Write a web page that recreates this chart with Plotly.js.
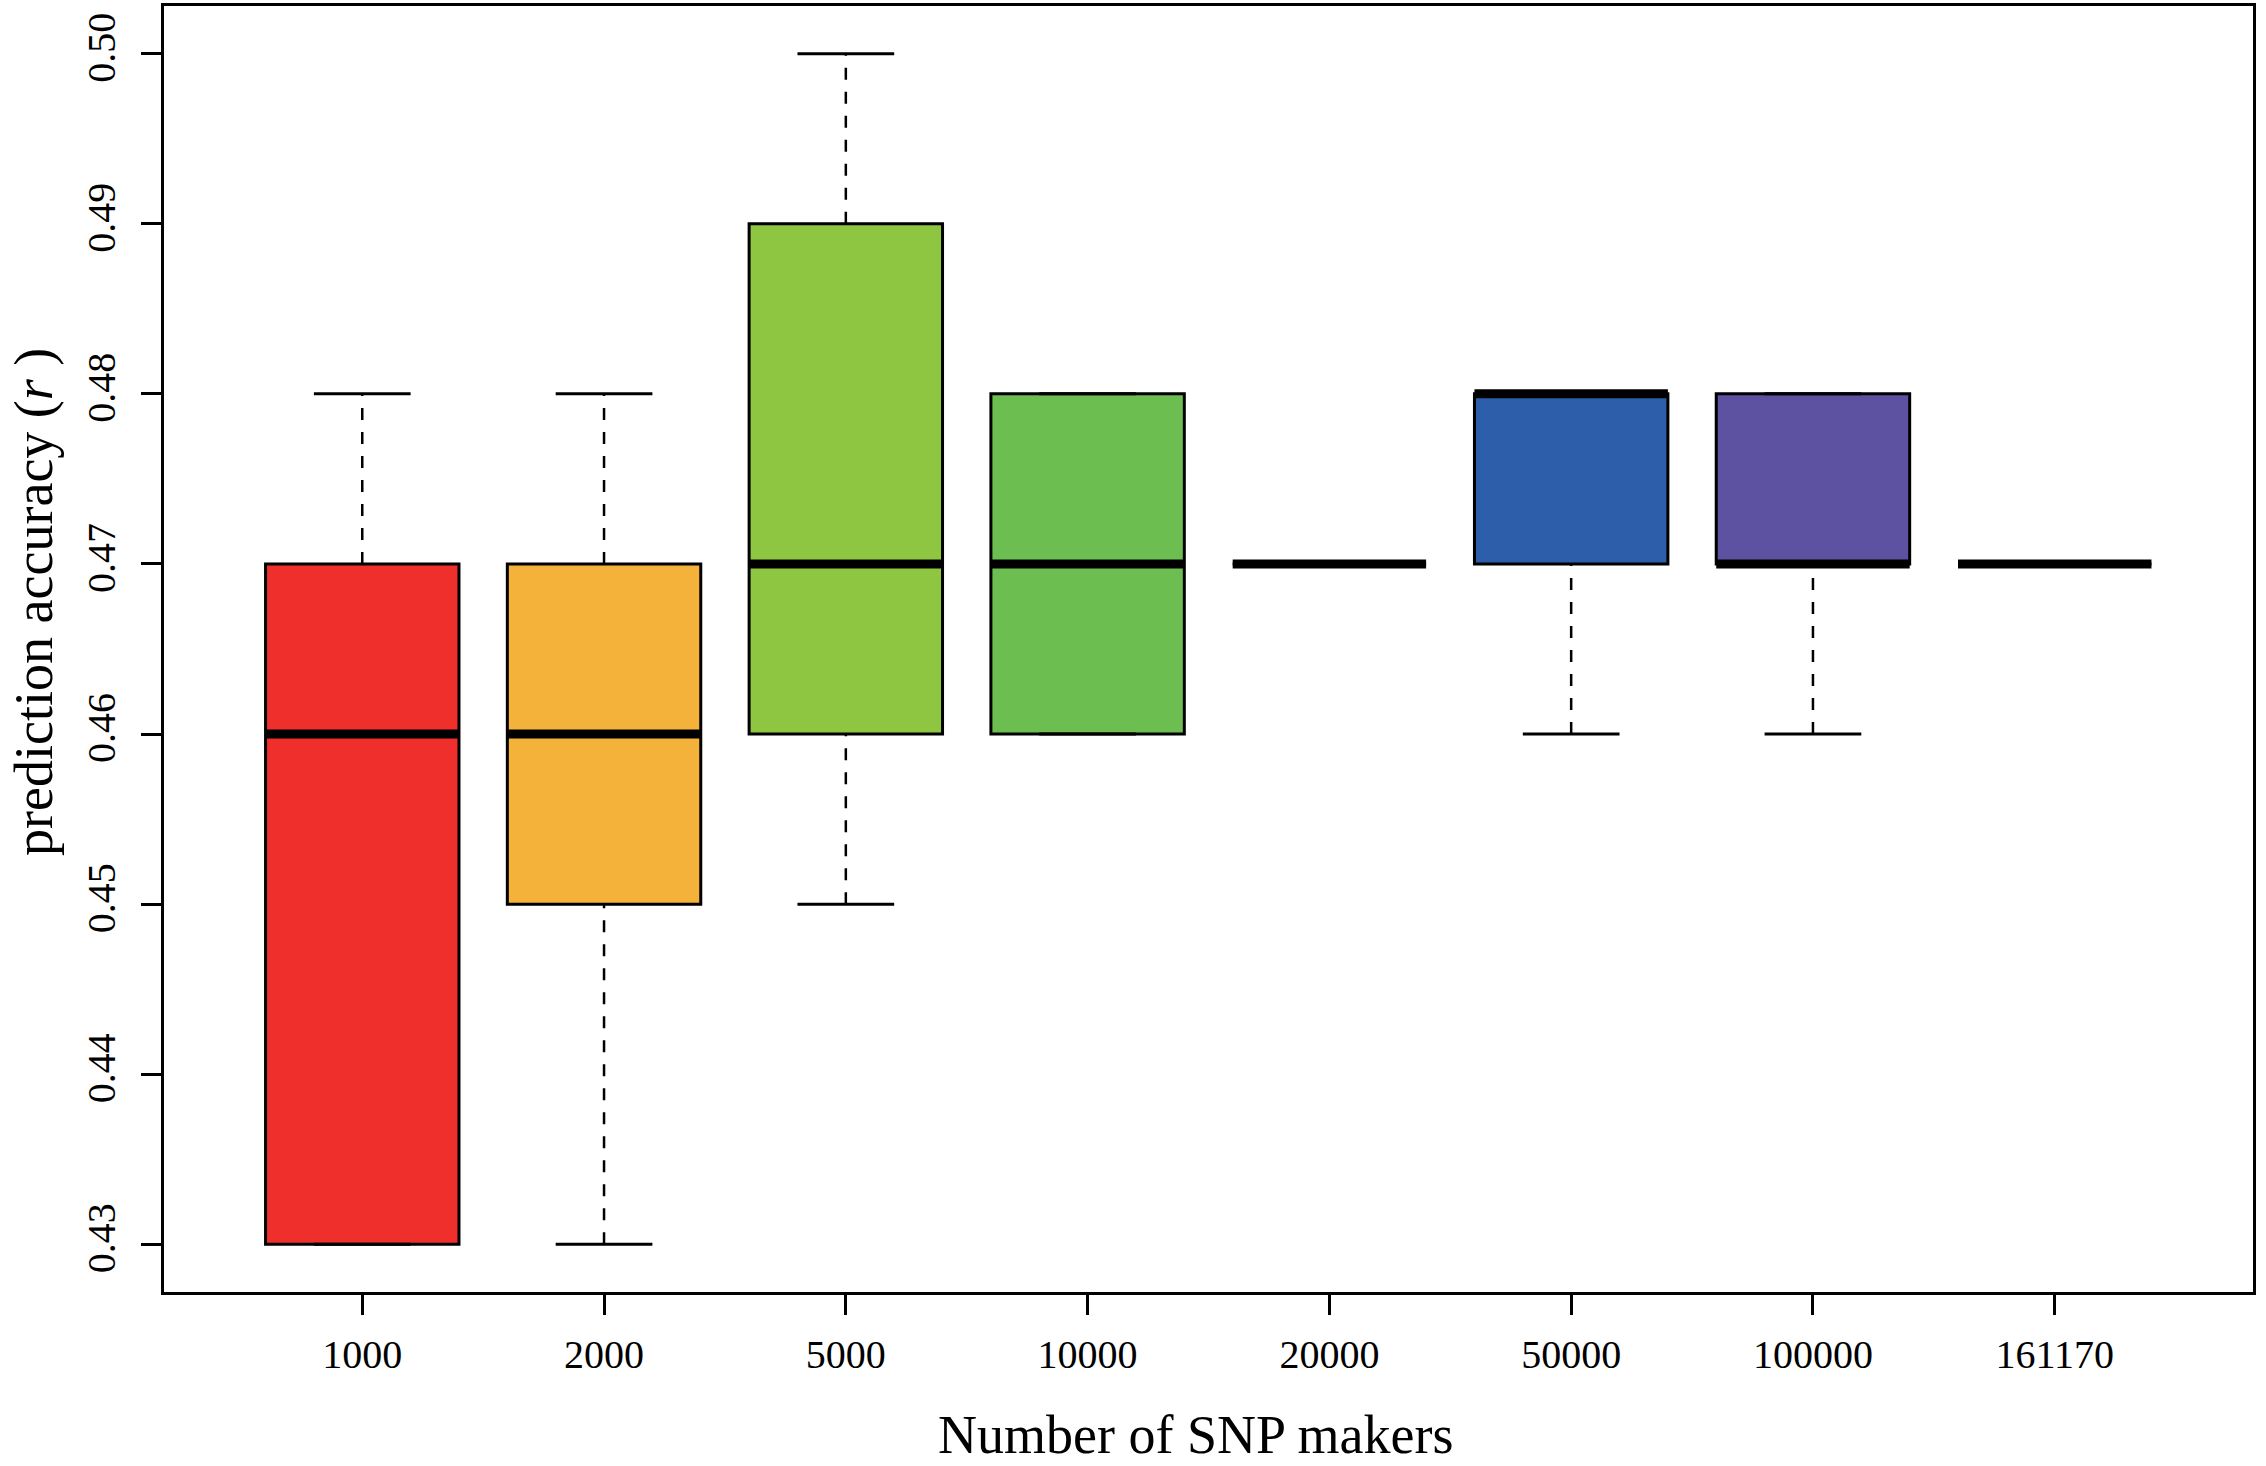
<!DOCTYPE html>
<html>
<head>
<meta charset="utf-8">
<script src="https://cdn.plot.ly/plotly-3.0.1.min.js"></script>
<style>
  html, body { margin: 0; padding: 0; background: #fff; }
  #chart { width: 2266px; height: 1466px; }
</style>
</head>
<body>
<div id="chart"></div>
<script>
const markers = ["1000", "2000", "5000", "10000", "20000", "50000", "100000", "161170"];
const lowWhisker = [0.43, 0.43, 0.45, 0.46, 0.47, 0.46, 0.46, 0.47];
const q1 = [0.43, 0.45, 0.46, 0.46, 0.47, 0.47, 0.47, 0.47];
const median = [0.46, 0.46, 0.47, 0.47, 0.47, 0.48, 0.47, 0.47];
const q3 = [0.47, 0.47, 0.49, 0.48, 0.47, 0.48, 0.48, 0.47];
const highWhisker = [0.48, 0.48, 0.50, 0.48, 0.47, 0.48, 0.48, 0.47];
const boxColors = ["#EE2F2B", "#F4B23A", "#8EC641", "#6DBE50", "#3AB39A", "#2D5EA9", "#5D52A1", "#C9458F"];
const yTicks = [0.43, 0.44, 0.45, 0.46, 0.47, 0.48, 0.49, 0.50];

const pos = markers.map((m, i) => i + 1);
const BOX_W = 0.8;
const CAP_W = 0.4;
const font = "Liberation Serif, Times New Roman, serif";

const traces = [];

// boxes (hinges only, whiskers drawn separately so they can be dashed)
markers.forEach((m, i) => {
  traces.push({
    type: "box",
    x: [pos[i]],
    q1: [q1[i]],
    median: [median[i]],
    q3: [q3[i]],
    lowerfence: [q1[i]],
    upperfence: [q3[i]],
    width: BOX_W,
    fillcolor: boxColors[i],
    line: { color: "#000", width: 3 },
    hoverinfo: "skip",
    showlegend: false,
  });
});

// dashed whiskers
const wx = [], wy = [];
pos.forEach((p, i) => {
  wx.push(p, p, null, p, p, null);
  wy.push(q3[i], highWhisker[i], null, lowWhisker[i], q1[i], null);
});
traces.push({
  type: "scatter", mode: "lines", x: wx, y: wy,
  line: { color: "#000", width: 2.5, dash: "12px,12px" },
  hoverinfo: "skip", showlegend: false,
});

// staples
const sx = [], sy = [];
pos.forEach((p, i) => {
  sx.push(p - CAP_W / 2, p + CAP_W / 2, null, p - CAP_W / 2, p + CAP_W / 2, null);
  sy.push(highWhisker[i], highWhisker[i], null, lowWhisker[i], lowWhisker[i], null);
});
traces.push({
  type: "scatter", mode: "lines", x: sx, y: sy,
  line: { color: "#000", width: 3 },
  hoverinfo: "skip", showlegend: false,
});

// thick medians
const mx = [], my = [];
pos.forEach((p, i) => {
  mx.push(p - BOX_W / 2, p + BOX_W / 2, null);
  my.push(median[i], median[i], null);
});
traces.push({
  type: "scatter", mode: "lines", x: mx, y: my,
  line: { color: "#000", width: 9 },
  hoverinfo: "skip", showlegend: false,
});

const layout = {
  width: 2266,
  height: 1466,
  margin: { l: 164, r: 13, t: 6, b: 174 },
  paper_bgcolor: "#fff",
  plot_bgcolor: "#fff",
  showlegend: false,
  font: { family: font, color: "#000", size: 40 },
  xaxis: {
    range: [0.18, 8.82],
    tickmode: "array",
    tickvals: pos,
    ticktext: markers,
    ticks: "outside",
    ticklen: 20,
    tickwidth: 3,
    tickcolor: "#000",
    ticklabelstandoff: 5,
    showline: true,
    linecolor: "#000",
    linewidth: 3,
    mirror: true,
    showgrid: false,
    zeroline: false,
    tickfont: { family: font, size: 40 },
  },
  yaxis: {
    range: [0.4272, 0.5028],
    tickmode: "array",
    tickvals: yTicks,
    ticktext: yTicks.map(v => v.toFixed(2)),
    tickangle: -90,
    ticks: "outside",
    ticklen: 20,
    tickwidth: 3,
    tickcolor: "#000",
    ticklabelstandoff: 10,
    showline: true,
    linecolor: "#000",
    linewidth: 3,
    mirror: true,
    showgrid: false,
    zeroline: false,
    tickfont: { family: font, size: 40 },
  },
  annotations: [
    {
      text: "Number of SNP makers",
      xref: "paper", yref: "paper",
      x: 0.494, y: -0.111,
      xanchor: "center", yanchor: "middle",
      showarrow: false,
      font: { family: font, size: 54 },
    },
    {
      text: "prediction accuracy (<i>r</i> )",
      xref: "paper", yref: "paper",
      x: -0.062, y: 0.537,
      xanchor: "center", yanchor: "middle",
      textangle: -90,
      showarrow: false,
      font: { family: font, size: 54 },
    },
  ],
};

Plotly.newPlot("chart", traces, layout, { displayModeBar: false, staticPlot: true });
</script>
</body>
</html>
